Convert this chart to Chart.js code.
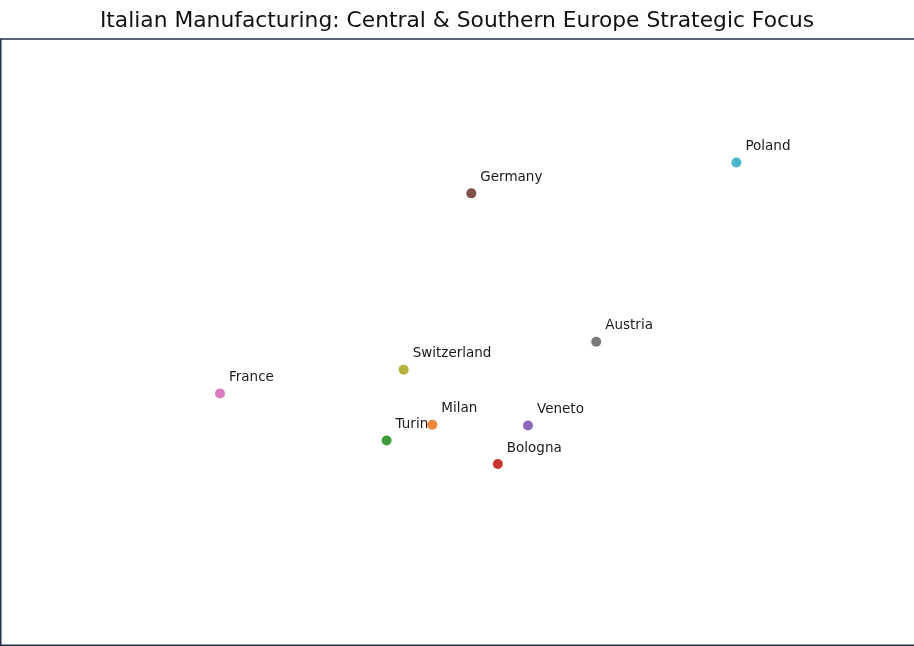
<!DOCTYPE html>
<html>
<head>
<meta charset="utf-8">
<script src="https://cdn.jsdelivr.net/npm/chart.js@4/dist/chart.umd.min.js"></script>
<style>
  html, body { margin: 0; padding: 0; background: #fff; }
  #wrap { width: 914px; height: 646px; position: relative; }
</style>
</head>
<body>
<div id="wrap"><canvas id="chart"></canvas></div>
<script>
'use strict';

const places = ['Milan', 'Turin', 'Bologna', 'Veneto', 'Germany', 'France', 'Austria', 'Switzerland', 'Poland'];
const longitudes = [9.19, 7.69, 11.34, 12.33, 10.47, 2.22, 14.57, 8.25, 19.17];
const latitudes = [45.46, 45.07, 44.49, 45.44, 51.17, 46.23, 47.51, 46.82, 51.93];
const pointColors = ['#f0883a', '#3e9b3c', '#c9352f', '#8f68bd', '#7e5149', '#d77cc0', '#7a7a7a', '#b5b43c', '#4ab6cb'];

const FONT = '"DejaVu Sans", Verdana, sans-serif';

// text next to each marker, nudged up and to the right
const pointLabels = {
  id: 'pointLabels',
  afterDatasetsDraw(chart) {
    const ctx = chart.ctx;
    const meta = chart.getDatasetMeta(0);
    ctx.save();
    ctx.font = '13.5px ' + FONT;
    ctx.fillStyle = '#1a1a1a';
    ctx.textAlign = 'left';
    ctx.textBaseline = 'middle';
    meta.data.forEach((pt, i) => {
      ctx.fillText(places[i], pt.x + 9, pt.y - 16);
    });
    ctx.restore();
  }
};

// left, top and bottom spines only; the right one falls outside the picture
const frame = {
  id: 'frame',
  beforeDatasetsDraw(chart) {
    const { left, top, right, bottom } = chart.chartArea;
    const ctx = chart.ctx;
    ctx.save();
    ctx.strokeStyle = '#24304d';
    ctx.lineWidth = 1.5;
    ctx.beginPath();
    ctx.moveTo(right + 2, top + 0.75);
    ctx.lineTo(left + 0.75, top + 0.75);
    ctx.lineTo(left + 0.75, bottom - 0.75);
    ctx.lineTo(right + 2, bottom - 0.75);
    ctx.stroke();
    ctx.restore();
  }
};

new Chart(document.getElementById('chart'), {
  type: 'scatter',
  data: {
    datasets: [{
      data: places.map((p, i) => ({ x: longitudes[i], y: latitudes[i] })),
      backgroundColor: pointColors,
      borderWidth: 0,
      pointRadius: 5,
      pointHoverRadius: 5
    }]
  },
  options: {
    responsive: true,
    maintainAspectRatio: false,
    animation: false,
    layout: { padding: 0, autoPadding: false },
    scales: {
      x: { type: 'linear', min: -5, max: 25, display: false },
      y: { type: 'linear', min: 40, max: 55, display: false }
    },
    plugins: {
      legend: { display: false },
      tooltip: { enabled: false },
      title: {
        display: true,
        text: 'Italian Manufacturing: Central & Southern Europe Strategic Focus',
        color: '#111',
        font: { family: FONT, size: 21.8, weight: 'normal', lineHeight: 1.2 },
        padding: { top: 8, bottom: 4 }
      }
    }
  },
  plugins: [frame, pointLabels]
});
</script>
</body>
</html>
